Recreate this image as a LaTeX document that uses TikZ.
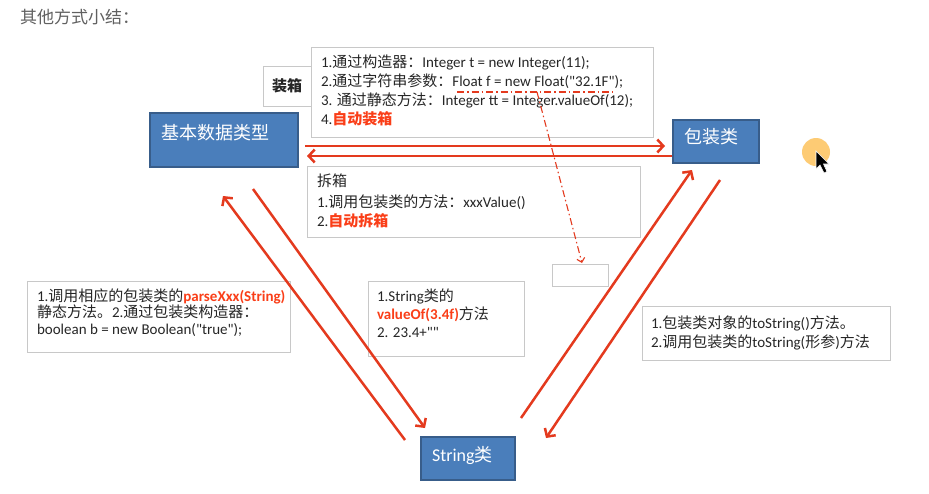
\documentclass[tikz,border=0pt]{standalone}
\usepackage{fontspec}
\usetikzlibrary{arrows.meta,calc}
\newfontfamily\lat{Carlito}
\newfontfamily\cjk{Noto Sans CJK SC}
\newcommand\zh[1]{{\cjk #1}}
\newcommand\hl[1]{{\color{hlred}\bfseries #1}}
\definecolor{bluefill}{RGB}{74,126,187}
\definecolor{blueedge}{RGB}{56,93,138}
\definecolor{grayedge}{RGB}{200,200,200}
\definecolor{txtcol}{RGB}{38,38,38}
\definecolor{titlecol}{RGB}{96,96,96}
\definecolor{arrred}{RGB}{228,58,30}
\definecolor{hlred}{RGB}{250,62,24}
\definecolor{dotorange}{RGB}{253,203,116}
\begin{document}
\begin{tikzpicture}[x=1pt,y=-1pt,
  every node/.style={inner sep=0pt, outer sep=0pt},
  bluebox/.style={draw=blueedge, fill=bluefill, line width=1.2pt, anchor=north west},
  graybox/.style={draw=grayedge, fill=white, line width=0.8pt, anchor=north west},
  txt/.style={anchor=base west, text=txtcol, font=\lat\fontsize{15}{17}\selectfont},
  wtxt/.style={anchor=base west, text=white, font=\lat\fontsize{18}{20}\selectfont},
  redarr/.style={draw=arrred, line width=2.5pt, -{Straight Barb[length=6pt,width=13pt]}},
  dashline/.style={draw=arrred, line width=1.1pt, dash pattern=on 7pt off 3pt on 1.5pt off 3pt},
]
\useasboundingbox[fill=white] (0,0) rectangle (929,493);

% title
\node[anchor=base west, text=titlecol, font=\cjk\fontsize{17}{20}\selectfont] (title) at (20,23) {其他方式小结：};

% boxing box
\node[graybox, minimum width=48, minimum height=40] (zxlabel) at (263,66) {};
\node[text=txtcol, font=\cjk\bfseries\fontsize{15}{18}\selectfont] (zxT) at (287,86) {装箱};
\node[graybox, minimum width=342, minimum height=90] (topbox) at (311,47) {};
\node[txt] (t1) at (321,67) {1.\zh{通过构造器：}Integer t = new Integer(11);};
\node[txt] (t2) at (321,86) {2.\zh{通过字符串参数：}Float f = new Float("32.1F");};
\node[txt] (t3) at (321,105) {3. \zh{通过静态方法：}Integer tt = Integer.valueOf(12);};
\node[txt] (t4) at (321,124) {4.\hl{\zh{自动装箱}}};

% unboxing box
\node[graybox, minimum width=333, minimum height=71] (unbox) at (307,166) {};
\node[txt] (u1) at (317,186) {\zh{拆箱}};
\node[txt] (u2) at (317,207) {1.\zh{调用包装类的方法：}xxxValue()};
\node[txt] (u3) at (317,226) {2.\hl{\zh{自动拆箱}}};

% blank box
\node[graybox, minimum width=56, minimum height=22] (blank) at (552,264) {};

% left box
\node[graybox, minimum width=263, minimum height=71] (leftbox) at (27,281) {};
\node[txt] (l1) at (37,301) {1.\zh{调用相应的包装类的}\hl{parseXxx(String)}};
\node[txt] (l2) at (37,317) {\zh{静态方法。}2.\zh{通过包装类构造器：}};
\node[txt] (l3) at (37,334) {boolean b = new Boolean("true");};

% middle box
\node[graybox, minimum width=156, minimum height=75] (midbox) at (368,281) {};
\node[txt] (m1) at (377,301) {1.String\zh{类的}};
\node[txt] (m2) at (377,319) {\hl{valueOf(3.4f)}\zh{方法}};
\node[txt] (m3) at (377,337) {2. 23.4+""};

% right box
\node[graybox, minimum width=248, minimum height=54] (rightbox) at (642,306) {};
\node[txt] (r1) at (651,328) {1.\zh{包装类对象的}toString()\zh{方法。}};
\node[txt] (r2) at (651,347) {2.\zh{调用包装类的}toString(\zh{形参})\zh{方法}};

% blue boxes
\node[bluebox, minimum width=148, minimum height=54] (basic) at (150,113) {};
\node[wtxt] (basicT) at (161,139) {\zh{基本数据类型}};
\node[bluebox, minimum width=86, minimum height=43] (wrap) at (673,120) {};
\node[wtxt] (wrapT) at (684,143.5) {\zh{包装类}};
\node[bluebox, minimum width=94, minimum height=43] (str) at (421,437) {};
\node[wtxt] (strT) at (432,461) {String\zh{类}};

% horizontal arrows
\draw[redarr] ([shift={(7,6)}]basic.east) -- ([shift={(-8,4.5)}]wrap.west);
\draw[redarr] ([shift={(-1,14.5)}]wrap.west) -- ([shift={(9,16)}]basic.east);

% diagonal arrows
\draw[redarr] ([shift={(-16,3)}]str.north west) -- ([shift={(73,29)}]basic.south west);
\draw[redarr] ([shift={(103,22)}]basic.south west) -- ([shift={(4,-9)}]str.north west);
\draw[redarr] ([shift={(6,-19)}]str.north east) -- ([shift={(19,7)}]wrap.south west);
\draw[redarr] ([shift={(47,17)}]wrap.south west) -- ([shift={(31,1)}]str.north east);

% dash-dot annotation
\coordinate (ulA) at (457,92);
\coordinate (ulB) at (613,92);
\coordinate (ulM) at (537,92);
\draw[dashline] (ulA) -- (ulB);
\draw[dashline, -{Straight Barb[length=4pt,width=8pt]}] (ulM) -- ([shift={(2,-1)}]blank.north);

% pointer highlight and cursor
\fill[dotorange] (816,152) circle (14);
\filldraw[fill=black, draw=white, line width=0.6pt] (816,151) -- (816,169) -- (820,165) -- (824,173) -- (827,171.5) -- (823.5,164) -- (829,164) -- cycle;
\end{tikzpicture}
\end{document}
